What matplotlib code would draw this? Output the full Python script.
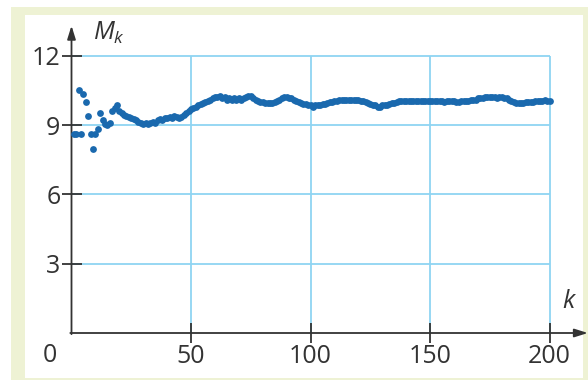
import numpy as np
import matplotlib
matplotlib.use("Agg")
import matplotlib.pyplot as plt
from matplotlib.patches import Rectangle

plt.rcParams['font.family'] = ['Open Sans', 'DejaVu Sans']
plt.rcParams['mathtext.fontset'] = 'custom'
plt.rcParams['mathtext.it'] = 'Open Sans:italic'
plt.rcParams['mathtext.rm'] = 'Open Sans'

# running mean M_k, k = 1..200
k = np.arange(1, 201)
M = [
    8.6, 8.6, 10.5, 8.6, 10.35, 10.0, 9.4, 8.6, 7.95, 8.6,
    8.85, 9.5, 9.2, 9.05, 9.0, 9.1, 9.6, 9.75, 9.85, 9.6,
    9.5, 9.45, 9.4, 9.35, 9.3, 9.25, 9.2, 9.15, 9.1, 9.05,
    9.1, 9.05, 9.1, 9.15, 9.1, 9.2, 9.25, 9.2, 9.3, 9.3,
    9.35, 9.3, 9.4, 9.35, 9.3, 9.35, 9.45, 9.5, 9.6, 9.7,
    9.75, 9.8, 9.85, 9.9, 9.95, 10.0, 10.05, 10.1, 10.15, 10.2,
    10.2, 10.25, 10.15, 10.2, 10.1, 10.15, 10.1, 10.15, 10.1, 10.15,
    10.1, 10.15, 10.2, 10.25, 10.25, 10.15, 10.1, 10.05, 10.0, 10.0,
    9.95, 9.95, 9.95, 9.95, 10.0, 10.05, 10.1, 10.15, 10.2, 10.2,
    10.15, 10.15, 10.1, 10.05, 10.0, 9.95, 9.9, 9.9, 9.85, 9.85,
    9.8, 9.85, 9.85, 9.85, 9.9, 9.9, 9.95, 10.0, 10.0, 10.05,
    10.05, 10.1, 10.1, 10.1, 10.1, 10.1, 10.1, 10.1, 10.1, 10.1,
    10.05, 10.05, 10.0, 9.95, 9.9, 9.85, 9.85, 9.8, 9.8, 9.85,
    9.85, 9.85, 9.9, 9.95, 9.95, 10.0, 10.05, 10.05, 10.05, 10.05,
    10.05, 10.05, 10.05, 10.05, 10.05, 10.05, 10.05, 10.05, 10.05, 10.05,
    10.05, 10.05, 10.05, 10.05, 10.05, 10.0, 10.05, 10.05, 10.05, 10.05,
    10.0, 10.0, 10.05, 10.05, 10.05, 10.05, 10.1, 10.1, 10.1, 10.15,
    10.15, 10.15, 10.2, 10.2, 10.2, 10.2, 10.2, 10.15, 10.2, 10.2,
    10.15, 10.15, 10.1, 10.05, 10.0, 9.95, 9.95, 9.95, 9.95, 10.0,
    10.0, 10.0, 10.0, 10.05, 10.05, 10.05, 10.05, 10.1, 10.05, 10.05,
]
x_ticks = [50, 100, 150, 200]
y_ticks = [3, 6, 9, 12]

dot_color = '#1a69ae'
grid_color = '#8fd4f2'
axis_color = '#333333'

fig = plt.figure(figsize=(5.88, 3.80), dpi=100)
fig.patch.set_facecolor('white')
# green frame and white panel
fig.patches.append(Rectangle((11 / 588, 0), 1, (380 - 7) / 380, transform=fig.transFigure,
                             facecolor='#eef2d4', edgecolor='none', zorder=-10))
fig.patches.append(Rectangle((25 / 588, 2 / 380), (583 - 25) / 588, (378 - 15) / 380,
                             transform=fig.transFigure, facecolor='white',
                             edgecolor='none', zorder=-9))

ax = fig.add_axes([71.5 / 588, 47 / 380, 514 / 588, 305 / 380])
ax.patch.set_visible(False)
for s in ax.spines.values():
    s.set_visible(False)
ax.set_xlim(0, 215)
ax.set_ylim(0, 13.2)

# grid
ax.hlines(y_ticks, 0, 200, color=grid_color, lw=1.3, zorder=1)
ax.vlines(x_ticks, 0, 12, color=grid_color, lw=1.3, zorder=1)

# axes with arrows
ax.annotate('', xy=(216, 0), xytext=(-0.5, 0),
            arrowprops=dict(arrowstyle='-|>,head_length=0.8,head_width=0.25',
                            color=axis_color, lw=1.3, shrinkA=0, shrinkB=0),
            annotation_clip=False)
ax.annotate('', xy=(0, 13.3), xytext=(0, -0.05),
            arrowprops=dict(arrowstyle='-|>,head_length=0.8,head_width=0.25',
                            color=axis_color, lw=1.3, shrinkA=0, shrinkB=0),
            annotation_clip=False)

ax.set_xticks(x_ticks)
ax.set_yticks(y_ticks)
ax.tick_params(direction='inout', length=14, width=1.3, color=axis_color,
               labelsize=18, labelcolor='#333333', pad=1)

ax.scatter(k, M, s=24, color=dot_color, linewidths=0, zorder=3, clip_on=False)

ax.text(-9, -0.45, '0', ha='center', va='top', fontsize=18, color='#333333')
ax.text(9, 13.0, r'$M_k$', ha='left', va='center', fontsize=18, color='#333333')
ax.text(208.5, 1.35, r'$k$', ha='center', va='center', fontsize=18, color='#333333')

fig.savefig('out.png', dpi=100)
